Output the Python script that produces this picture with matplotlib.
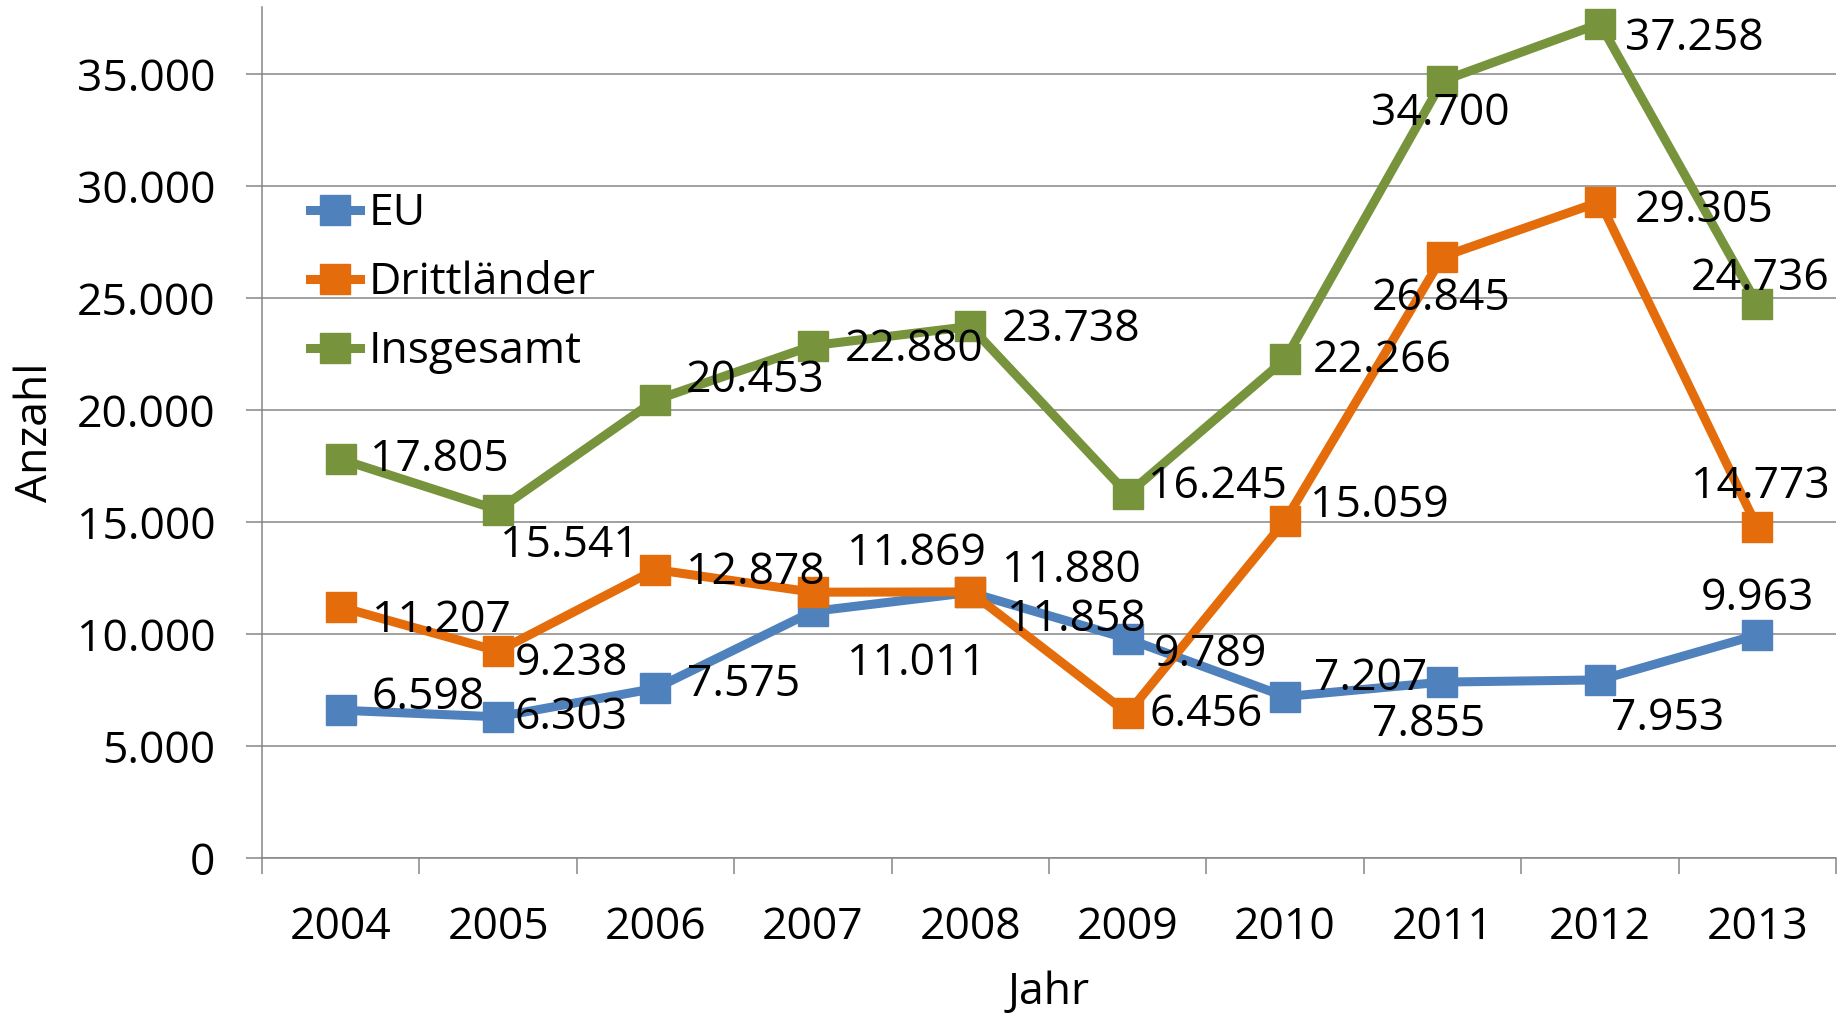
import numpy as np
import matplotlib
matplotlib.use('Agg')
import matplotlib.pyplot as plt
from matplotlib.ticker import FuncFormatter

plt.rcParams['font.family'] = ['Open Sans', 'DejaVu Sans']

# data
years = ['2004', '2005', '2006', '2007', '2008', '2009', '2010', '2011', '2012', '2013']
eu = [6598, 6303, 7575, 11011, 11858, 9789, 7207, 7855, 7953, 9963]
dritt = [11207, 9238, 12878, 11869, 11880, 6456, 15059, 26845, 29305, 14773]
gesamt = [17805, 15541, 20453, 22880, 23738, 16245, 22266, 34700, 37258, 24736]

# label offsets (pixels, dx / dy up)
off_eu = [(87, 12), (73, -1), (88, 4), (104, -52), (106, -27),
          (83, -16), (86, 18), (-14, -43), (68, -39), (0, 36)]
off_dritt = [(101, -14), (73, -13), (100, -3), (104, 38), (101, 21),
             (78, -1), (94, 15), (-1, -42), (104, -9), (3, 40)]
off_gesamt = [(99, 0), (71, -36), (100, 19), (101, -4), (101, -3),
              (90, 7), (97, -1), (-2, -33), (94, -15), (3, 25)]

c_eu = '#4F81BD'
c_dritt = '#E46C0A'
c_ges = '#77933C'
grid_c = '#868686'
fs = 32

def de(v, pos=None):
    return '{:,}'.format(int(v)).replace(',', '.')

fig = plt.figure(figsize=(18.49, 10.15), dpi=100)
ax = fig.add_axes([262/1849, 1-858/1015, 1574/1849, 851/1015])

x = np.arange(len(years))
series = [('EU', eu, c_eu, off_eu),
          ('Drittländer', dritt, c_dritt, off_dritt),
          ('Insgesamt', gesamt, c_ges, off_gesamt)]

for name, vals, col, offs in series:
    ax.plot(x, vals, color=col, lw=6.5, marker='s', ms=21, mec=col,
            label=name, zorder=3, solid_joinstyle='miter')

for name, vals, col, offs in series:
    for xi, v, o in zip(x, vals, offs):
        ax.annotate(de(v), (xi, v), xytext=o, textcoords='offset pixels',
                    ha='center', va='center', fontsize=fs, zorder=5)

ax.set_xlim(-0.5, 9.5)
ax.set_ylim(0, 38000)
ax.set_yticks(np.arange(0, 35001, 5000))
ax.yaxis.set_major_formatter(FuncFormatter(de))
ax.set_xticks(x)
ax.set_xticklabels(years)
ax.set_xticks(np.arange(-0.5, 10, 1), minor=True)

ax.tick_params(axis='x', which='major', length=0, pad=34, labelsize=fs)
ax.tick_params(axis='x', which='minor', length=11.5, width=1.1, color=grid_c, direction='out')
ax.tick_params(axis='y', length=11.5, width=1.1, color=grid_c, pad=22, labelsize=fs)

ax.grid(axis='y', color=grid_c, lw=1.1)
ax.set_axisbelow(True)
for s in ['top', 'right']:
    ax.spines[s].set_visible(False)
for s in ['left', 'bottom']:
    ax.spines[s].set_color(grid_c)
    ax.spines[s].set_linewidth(1.1)

ax.set_ylabel('Anzahl', fontsize=fs)
ax.yaxis.set_label_coords(-0.144, 0.5)
ax.yaxis.label.set_va('center')
ax.set_xlabel('Jahr', fontsize=fs)
ax.xaxis.label.set_va('center')
ax.xaxis.set_label_coords(0.5, -0.158)

ax.legend(loc='upper left', bbox_to_anchor=(0.0305, 0.783), frameon=False,
          fontsize=fs, handlelength=1.13, handletextpad=0.2, labelspacing=0.55,
          borderpad=0, borderaxespad=0)

fig.savefig('out.png', dpi=100)
